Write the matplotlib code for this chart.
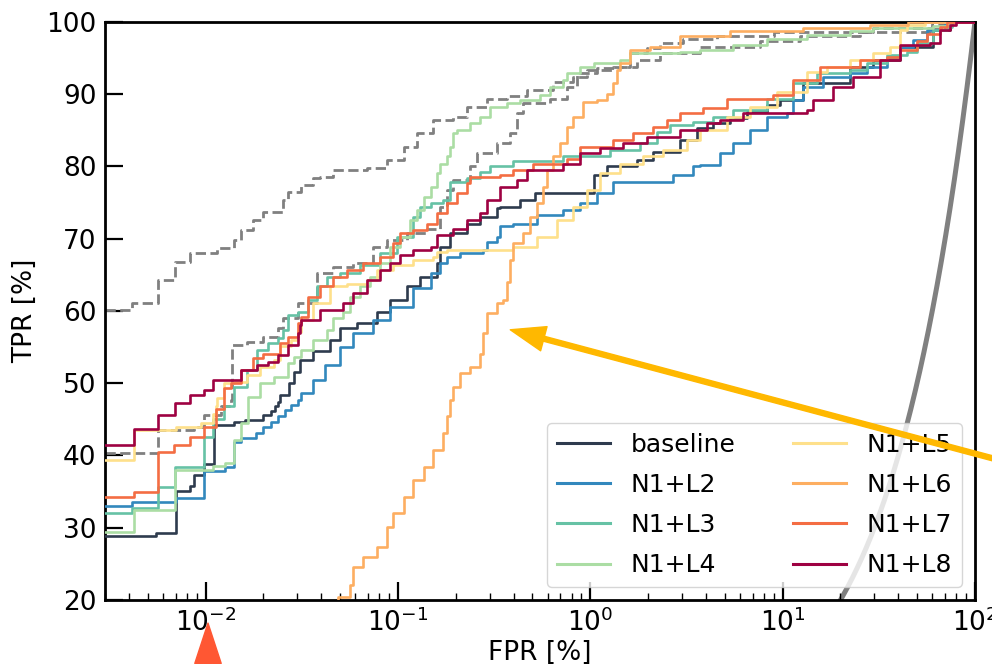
import numpy as np
import matplotlib
matplotlib.use("Agg")
import matplotlib.pyplot as plt

# ---------------- data (FPR [%], TPR [%]) ----------------
labels = ["baseline", "N1+L2", "N1+L3", "N1+L4", "N1+L5", "N1+L6", "N1+L7", "N1+L8"]
colors = ["#2e3b4e", "#3288bd", "#66c2a5", "#abdda4", "#fee08b", "#fdae61", "#f46d43", "#9e0142"]

baseline_fpr = [0.003, 0.00556, 0.00706, 0.00826, 0.00866, 0.00977, 0.0111, 0.0140, 0.0161, 0.0200, 0.0218,
                0.0231, 0.0239, 0.0245, 0.0270, 0.0287, 0.0308, 0.0364, 0.0446, 0.0503, 0.0614, 0.0780, 0.0914,
                0.112, 0.131, 0.160, 0.166, 0.187, 0.230, 0.268, 0.329, 0.341, 0.433, 0.518, 1.04, 1.22, 1.75,
                2.12, 2.94, 3.58, 4.35, 5.34, 6.5, 8.3, 9.71, 12.8, 22.4, 29.5, 40.7, 60.5, 74.2, 100]
baseline_tpr = [28.9, 29.3, 35.1, 35.8, 37.3, 38.8, 44.2, 44.7, 44.9, 45.6, 46.1,
                46.8, 47.4, 48.4, 50.0, 51.6, 53.2, 54.5, 56.0, 57.6, 58.3, 59.9, 61.5,
                63.4, 64.75, 66.6, 68.9, 70.75, 72.1, 73.05, 74.2, 74.4, 75.4, 76.3, 78.8, 80.0, 80.9,
                82.05, 83.7, 85.3, 86.0, 86.7, 87.5, 88.5, 89.2, 91.6, 93.8, 94.7, 96.6, 98.9, 100, 100]

l2_fpr = [0.003, 0.00416, 0.00706, 0.00977, 0.0127, 0.0140, 0.0152, 0.0182, 0.0200, 0.0218, 0.0237, 0.0260,
          0.0277, 0.0301, 0.0312, 0.036, 0.042, 0.0503, 0.0587, 0.0746, 0.0914, 0.120, 0.148, 0.166, 0.181,
          0.211, 0.278, 0.292, 0.329, 0.341, 0.398, 0.531, 0.724, 0.887, 1.09, 1.32, 2.70, 3.43, 3.73, 4.73,
          5.53, 6.78, 8.30, 10.5, 11.3, 12.8, 16.2, 22.4, 27.5, 34.9, 40.7, 47.6, 56.3, 69.8, 100]
l2_tpr = [33.0, 33.6, 34.1, 37.8, 38.45, 41.9, 42.4, 43.1, 44.0, 44.7, 45.4, 46.3,
          47.0, 47.7, 48.6, 50.5, 52.5, 55.0, 57.0, 58.8, 60.5, 63.2, 65.3, 66.6, 67.5,
          68.0, 68.4, 69.6, 70.3, 71.7, 72.1, 73.3, 74.0, 74.9, 76.3, 77.9, 78.8, 80.0, 80.2, 81.8,
          83.2, 85.0, 86.9, 87.4, 89.2, 91.0, 92.4, 92.9, 93.8, 95.2, 96.6, 97.5, 98.9, 100, 100]

l3_fpr = [0.003, 0.00416, 0.00563, 0.00698, 0.00977, 0.0110, 0.0124, 0.0140, 0.0165, 0.0186, 0.0210, 0.0237,
          0.0254, 0.0267, 0.0301, 0.0339, 0.0382, 0.0430, 0.0503, 0.0638, 0.0811, 0.0994, 0.120, 0.131, 0.148,
          0.172, 0.187, 0.230, 0.268, 0.303, 0.398, 0.724, 1.27, 1.82, 2.23, 2.60, 3.43, 4.35, 5.53, 8.30,
          11.3, 15.1, 22.4, 27.5, 34.9, 44.3, 50.0, 60.5, 71.6, 76.0, 100]
l3_tpr = [32.1, 32.7, 35.7, 38.45, 42.6, 45.1, 46.8, 49.5, 51.8, 54.6, 55.6, 56.3,
          57.4, 59.4, 59.9, 61.5, 63.4, 64.75, 65.2, 66.4, 68.0, 70.3, 73.05, 74.4, 74.9,
          75.4, 77.9, 78.4, 79.3, 80.0, 80.7, 81.4, 82.3, 83.2, 84.8, 85.7, 86.2, 86.9, 87.8, 89.4,
          91.5, 92.9, 93.4, 94.3, 95.4, 95.9, 97.1, 98.9, 99.35, 100, 100]

l4_fpr = [0.003, 0.00423, 0.00698, 0.0110, 0.0127, 0.0140, 0.0152, 0.0167, 0.0193, 0.0226, 0.0267, 0.0287,
          0.0312, 0.0364, 0.0430, 0.0462, 0.0521, 0.0566, 0.0638, 0.0720, 0.0811, 0.0914, 0.103, 0.116, 0.126,
          0.136, 0.148, 0.160, 0.166, 0.181, 0.187, 0.194, 0.204, 0.238, 0.268, 0.303, 0.371, 0.433, 0.550,
          0.620, 0.724, 0.760, 0.887, 1.04, 1.43, 1.61, 2.94, 3.73, 5.53, 8.30, 13.4, 22.4, 29.5, 60.5, 74.2, 100]
l4_tpr = [29.45, 32.45, 38.0, 38.5, 39.0, 42.1, 44.5, 48.1, 50.0, 50.9, 52.8, 53.7,
          54.6, 56.0, 57.4, 59.0, 59.9, 62.0, 63.4, 64.75, 66.6, 68.9, 70.3, 72.6, 74.0,
          75.8, 77.2, 79.05, 80.4, 81.4, 82.7, 84.6, 85.05, 86.0, 86.9, 88.3, 88.75, 89.2, 89.9,
          91.0, 91.97, 92.9, 93.8, 94.3, 94.7, 95.7, 95.9, 96.1, 96.8, 97.7, 98.2, 98.7, 99.1, 99.45, 100, 100]

l5_fpr = [0.003, 0.00423, 0.00706, 0.00942, 0.0110, 0.0113, 0.0115, 0.0124, 0.0140, 0.0165, 0.0193, 0.0226,
          0.0245, 0.0277, 0.0301, 0.0312, 0.0364, 0.0446, 0.0547, 0.0695, 0.0783, 0.0948, 0.120, 0.153, 0.160,
          0.181, 0.398, 0.531, 0.674, 0.816, 0.965, 1.13, 1.43, 1.88, 2.39, 3.19, 3.73, 5.15, 6.78, 9.36,
          13.4, 17.0, 22.4, 29.5, 36.1, 40.7, 44.3, 55.0, 100]
l5_tpr = [39.4, 43.5, 44.0, 44.5, 45.8, 46.8, 48.0, 50.0, 50.2, 51.1, 52.3, 53.2,
          55.1, 56.0, 57.1, 58.75, 61.1, 63.4, 63.8, 64.3, 65.7, 66.4, 67.1, 67.5, 68.2,
          68.5, 68.9, 70.3, 72.6, 74.4, 76.75, 79.05, 80.4, 81.4, 82.3, 83.7, 85.0, 86.9, 88.3, 90.35,
          93.1, 93.8, 94.7, 95.7, 96.6, 98.9, 99.6, 100, 100]

l6_fpr = [0.045, 0.0491, 0.0566, 0.0587, 0.0662, 0.0783, 0.0881, 0.0948, 0.107, 0.120, 0.136, 0.153, 0.172,
          0.181, 0.187, 0.194, 0.211, 0.238, 0.268, 0.278, 0.292, 0.329, 0.353, 0.371, 0.384, 0.398, 0.449,
          0.488, 0.531, 0.570, 0.598, 0.643, 0.699, 0.760, 0.816, 0.920, 1.09, 1.22, 1.32, 1.38, 1.43, 1.61,
          2.05, 2.94, 5.34, 12.8, 28.5, 45.0, 100]
l6_tpr = [18.0, 20.45, 22.1, 24.6, 26.0, 27.4, 30.15, 32.0, 34.3, 36.6, 38.45, 40.8, 43.1,
          45.4, 47.7, 49.5, 51.4, 52.3, 54.1, 56.9, 59.7, 61.1, 61.5, 64.0, 67.1, 69.4, 70.75,
          73.05, 74.9, 77.2, 79.5, 81.4, 83.2, 85.5, 86.9, 88.97, 89.2, 90.1, 91.5, 93.35, 94.3, 96.1,
          96.6, 98.0, 98.7, 99.1, 99.6, 100, 100]

l7_fpr = [0.003, 0.00423, 0.00563, 0.00682, 0.00835, 0.00977, 0.0113, 0.0124, 0.0135, 0.0152, 0.0177, 0.0200,
          0.0245, 0.0267, 0.0301, 0.0312, 0.0339, 0.0396, 0.0462, 0.0547, 0.0662, 0.0811, 0.0948, 0.103, 0.120,
          0.142, 0.160, 0.181, 0.204, 0.230, 0.238, 0.341, 0.398, 0.506, 0.760, 0.887, 1.32, 1.67, 2.12, 2.51,
          2.94, 3.86, 5.15, 8.93, 11.3, 15.7, 25.3, 34.9, 40.7, 50.0, 56.3, 65.8, 72.0, 100]
l7_tpr = [34.3, 35.0, 40.5, 41.45, 42.6, 44.0, 46.5, 49.3, 50.0, 51.8, 53.5, 54.1,
          55.5, 56.4, 58.3, 59.2, 62.0, 63.4, 64.75, 65.7, 66.6, 67.5, 69.4, 70.75, 71.2,
          72.1, 73.5, 74.9, 76.3, 77.7, 78.6, 78.8, 79.5, 80.4, 81.1, 82.7, 83.7, 84.6, 85.5, 86.4,
          87.4, 88.05, 89.4, 89.9, 91.97, 93.8, 94.7, 95.2, 96.1, 97.3, 98.4, 99.35, 100, 100]

l8_fpr = [0.003, 0.00423, 0.00563, 0.00698, 0.00835, 0.00977, 0.0110, 0.0152, 0.0186, 0.0210, 0.0237, 0.0267,
          0.0301, 0.0308, 0.0312, 0.0396, 0.0521, 0.0587, 0.0695, 0.0811, 0.0914, 0.103, 0.120, 0.148, 0.160,
          0.194, 0.230, 0.268, 0.292, 0.341, 0.418, 0.471, 0.724, 0.887, 1.13, 1.48, 1.98, 2.94, 4.05, 4.73,
          6.24, 13.4, 14.4, 18.3, 23.2, 32.1, 40.7, 58.3, 65.8, 74.2, 80.0, 100]
l8_tpr = [41.45, 43.6, 45.6, 47.2, 48.4, 49.1, 50.45, 51.8, 52.5, 53.0, 53.9, 55.3,
          56.9, 58.1, 58.75, 60.1, 61.1, 62.45, 64.3, 65.7, 66.6, 67.75, 68.4, 68.9, 70.5,
          71.4, 72.6, 73.5, 75.4, 77.2, 78.1, 79.5, 80.4, 81.8, 82.5, 83.2, 84.1, 85.05, 86.0, 86.4,
          87.4, 87.8, 89.2, 91.0, 92.4, 94.7, 96.8, 97.05, 98.9, 99.6, 100, 100]

ref1_fpr = [0.003, 0.00416, 0.00563, 0.00698, 0.00835, 0.0115, 0.0140, 0.0152, 0.0177, 0.0200, 0.0254, 0.0267,
            0.0312, 0.0364, 0.0396, 0.0462, 0.0695, 0.0881, 0.107, 0.126, 0.153, 0.194, 0.230, 0.292, 0.371,
            0.471, 0.643, 0.816, 0.965, 1.32, 1.61, 1.98, 2.31, 3.04, 4.57, 9.0, 29.5, 60.0, 70.0, 100]
ref1_tpr = [60.1, 61.1, 64.3, 66.8, 68.0, 68.7, 69.8, 71.2, 72.6, 73.7, 75.4, 76.5,
            77.4, 78.4, 78.6, 79.5, 79.75, 80.9, 82.7, 84.6, 86.4, 86.9, 88.3, 89.4, 89.7,
            90.6, 91.7, 92.4, 93.35, 93.8, 95.7, 96.4, 97.05, 97.7, 98.0, 98.6, 99.2, 99.7, 100, 100]

ref2_fpr = [0.003, 0.00563, 0.00866, 0.00977, 0.0120, 0.0135, 0.0138, 0.0165, 0.0200, 0.0237, 0.0254, 0.0301,
            0.0382, 0.0462, 0.0587, 0.0746, 0.0881, 0.112, 0.142, 0.166, 0.181, 0.194, 0.238, 0.259, 0.329,
            0.384, 0.418, 0.449, 0.620, 0.760, 0.856, 1.09, 1.43, 1.75, 2.31, 3.73, 7.64, 12.3, 25.3, 58.3,
            74.2, 100]
ref2_tpr = [40.4, 43.5, 44.0, 45.6, 46.8, 47.7, 55.3, 55.75, 56.4, 57.6, 59.0, 61.1,
            65.2, 66.1, 66.6, 68.9, 69.8, 70.75, 71.4, 74.4, 76.75, 78.1, 80.0, 81.8, 83.2,
            84.6, 87.4, 88.75, 89.4, 91.0, 92.9, 93.6, 93.8, 94.7, 95.7, 96.6, 97.3, 98.0, 98.6, 99.0,
            100, 100]

curves_fpr = [baseline_fpr, l2_fpr, l3_fpr, l4_fpr, l5_fpr, l6_fpr, l7_fpr, l8_fpr]
curves_tpr = [baseline_tpr, l2_tpr, l3_tpr, l4_tpr, l5_tpr, l6_tpr, l7_tpr, l8_tpr]

yticks = [20, 30, 40, 50, 60, 70, 80, 90, 100]

# ---------------- figure ----------------
fig = plt.figure(figsize=(9.92, 6.64), dpi=100)
ax = fig.add_axes([0.1058, 0.0964, 0.8770, 0.8705])

# chance line (TPR = FPR)
chance = np.linspace(1, 100, 300)
ax.plot(chance, chance, color="#808080", lw=3.6, zorder=1, solid_capstyle="butt")

ax.step(ref1_fpr, ref1_tpr, where="post", color="#808080", lw=2.0, ls="--", zorder=2)
ax.step(ref2_fpr, ref2_tpr, where="post", color="#808080", lw=2.0, ls="--", zorder=2)

for fx, ty, lab, col in zip(curves_fpr, curves_tpr, labels, colors):
    ax.step(fx, ty, where="post", color=col, lw=1.9, label=lab, zorder=3)

ax.set_xscale("log")
ax.set_xlim(0.003, 100)
ax.set_ylim(20, 100)
ax.set_yticks(yticks)

ax.tick_params(axis="both", which="major", direction="in", length=13, width=1.6,
               labelsize=19, pad=6, top=False, right=False)
ax.tick_params(axis="x", which="minor", direction="in", length=5, width=1.0, top=False)
ax.tick_params(axis="y", which="minor", left=False, right=False)
for sp in ax.spines.values():
    sp.set_linewidth(2.0)

ax.set_xlabel("FPR [%]", fontsize=19, labelpad=2)
ax.set_ylabel("TPR [%]", fontsize=19, labelpad=6)

leg = ax.legend(loc="lower right", ncol=2, fontsize=18, handlelength=2.1,
                handletextpad=0.85, columnspacing=2.3, labelspacing=0.65,
                borderpad=0.4)
for h in leg.get_lines():
    h.set_linewidth(2.2)
leg.set_zorder(10)

# annotation arrows
ax.annotate("", xy=(0.384, 57.4), xycoords="data",
            xytext=(1.01, 0.306), textcoords="figure fraction",
            arrowprops=dict(color="#FFB800", width=3.6, headwidth=18, headlength=25, shrink=0),
            annotation_clip=False, zorder=12)
ax.annotate("", xy=(0.0103, 16.8), xycoords="data",
            xytext=(0.0103, 2.0), textcoords="data",
            arrowprops=dict(color="#FF5733", width=7, headwidth=19, headlength=29, shrink=0),
            annotation_clip=False, zorder=12)

fig.savefig("out.png", dpi=100)
